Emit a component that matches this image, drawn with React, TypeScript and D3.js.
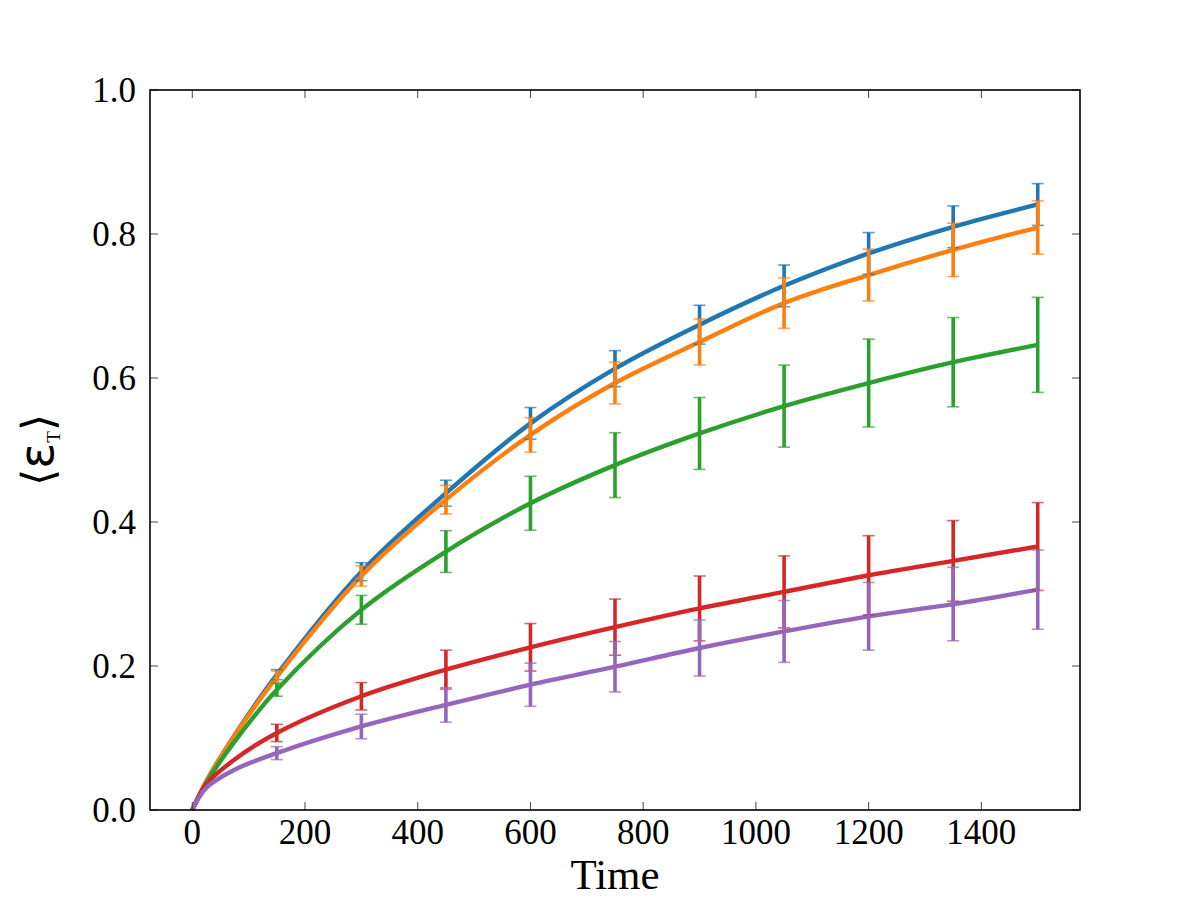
import * as d3 from 'd3';
import React from 'react';

// sample times for the mean curves; error bars only from 150 on
const times = [0, 25, 75, 150, 300, 450, 600, 750, 900, 1050, 1200, 1350, 1500];

const blueMean = [0, 0.040, 0.104, 0.188, 0.331, 0.440, 0.537, 0.613, 0.674, 0.728, 0.773, 0.810, 0.841];
const orangeMean = [0, 0.040, 0.103, 0.185, 0.325, 0.431, 0.521, 0.593, 0.650, 0.704, 0.743, 0.778, 0.809];
const greenMean = [0, 0.038, 0.095, 0.167, 0.278, 0.359, 0.426, 0.479, 0.523, 0.561, 0.593, 0.622, 0.646];
const redMean = [0, 0.036, 0.070, 0.107, 0.158, 0.195, 0.226, 0.254, 0.280, 0.303, 0.326, 0.346, 0.366];
const purpleMean = [0, 0.031, 0.056, 0.079, 0.116, 0.146, 0.174, 0.199, 0.225, 0.248, 0.269, 0.286, 0.306];

const blueErr = [null, null, null, 0.007, 0.0125, 0.018, 0.022, 0.025, 0.027, 0.029, 0.029, 0.029, 0.029];
const orangeErr = [null, null, null, 0.008, 0.014, 0.020, 0.024, 0.029, 0.032, 0.035, 0.036, 0.037, 0.037];
const greenErr = [null, null, null, 0.009, 0.020, 0.029, 0.0375, 0.045, 0.050, 0.057, 0.061, 0.062, 0.066];
const redErr = [null, null, null, 0.012, 0.019, 0.027, 0.033, 0.039, 0.045, 0.050, 0.055, 0.056, 0.061];
const purpleErr = [null, null, null, 0.009, 0.017, 0.024, 0.030, 0.035, 0.039, 0.043, 0.047, 0.051, 0.055];

const xTicks = [0, 200, 400, 600, 800, 1000, 1200, 1400];
const yTicks = [0, 0.2, 0.4, 0.6, 0.8, 1.0];

const series = [
  { color: '#1f77b4', mean: blueMean, err: blueErr },
  { color: '#ff7f0e', mean: orangeMean, err: orangeErr },
  { color: '#2ca02c', mean: greenMean, err: greenErr },
  { color: '#d62728', mean: redMean, err: redErr },
  { color: '#9467bd', mean: purpleMean, err: purpleErr },
];

const W = 1200, H = 900;
const left = 150, right = 1080, top = 90, bottom = 810;
const serif = '"Liberation Serif", "DejaVu Serif", serif';

export default function App() {
  const x = d3.scaleLinear().domain([-75, 1575]).range([left, right]);
  const y = d3.scaleLinear().domain([0, 1]).range([bottom, top]);

  const line = d3.line<number>()
    .x((_, i) => x(times[i]))
    .y(d => y(d))
    .curve(d3.curveCatmullRom.alpha(0.5));

  const tickLen = 8;
  const capHalf = 6;

  return (
    <svg width={W} height={H} style={{ position: 'absolute', left: 0, top: 0, background: '#fff' }}>
      <rect x={0} y={0} width={W} height={H} fill="#fff" />

      {/* mean curves */}
      {series.map((s, k) => (
        <path key={'l' + k} d={line(s.mean) || ''} fill="none" stroke={s.color} strokeWidth={4.4} />
      ))}

      {/* error bars */}
      {series.map((s, k) => (
        <g key={'e' + k}>
          {s.mean.map((m, i) => {
            const e = s.err[i];
            if (e == null) return null;
            const cx = x(times[i]);
            const y0 = y(m - e), y1 = y(m + e);
            return (
              <g key={i}>
                <line x1={cx} x2={cx} y1={y0} y2={y1} stroke={s.color} strokeWidth={3.6} />
                <line x1={cx - capHalf} x2={cx + capHalf} y1={y0} y2={y0} stroke={s.color} strokeWidth={1.6} opacity={0.7} />
                <line x1={cx - capHalf} x2={cx + capHalf} y1={y1} y2={y1} stroke={s.color} strokeWidth={1.6} opacity={0.7} />
              </g>
            );
          })}
        </g>
      ))}

      {/* inward ticks on all four sides */}
      {xTicks.map(t => (
        <g key={'xt' + t} stroke="#444" strokeWidth={1}>
          <line x1={x(t)} x2={x(t)} y1={bottom} y2={bottom - tickLen} />
          <line x1={x(t)} x2={x(t)} y1={top} y2={top + tickLen} />
        </g>
      ))}
      {yTicks.map(t => (
        <g key={'yt' + t} stroke="#444" strokeWidth={1}>
          <line x1={left} x2={left + tickLen} y1={y(t)} y2={y(t)} />
          <line x1={right} x2={right - tickLen} y1={y(t)} y2={y(t)} />
        </g>
      ))}

      <rect x={left} y={top} width={right - left} height={bottom - top} fill="none" stroke="#000" strokeWidth={1.6} />

      {/* tick labels */}
      {xTicks.map(t => (
        <text key={'xl' + t} x={x(t)} y={bottom + 34} textAnchor="middle" fontFamily={serif} fontSize={35} fill="#000">
          {t}
        </text>
      ))}
      {yTicks.map(t => (
        <text key={'yl' + t} x={left - 14} y={y(t) + 12} textAnchor="end" fontFamily={serif} fontSize={35} fill="#000">
          {d3.format('.1f')(t)}
        </text>
      ))}

      <text x={(left + right) / 2} y={889} textAnchor="middle" fontFamily={serif} fontSize={43} fill="#000">
        Time
      </text>

      <text transform={`translate(53, ${(top + bottom) / 2}) rotate(-90)`} textAnchor="middle" fill="#000" fontSize={44}
        fontFamily='"DejaVu Sans", sans-serif'>
        <tspan fontWeight={200}>⟨</tspan>
        <tspan fontSize={48}>ε</tspan>
        <tspan fontSize={19} fontFamily={serif} dy={7}>T</tspan>
        <tspan dy={-7} fontWeight={200}>⟩</tspan>
      </text>
    </svg>
  );
}
